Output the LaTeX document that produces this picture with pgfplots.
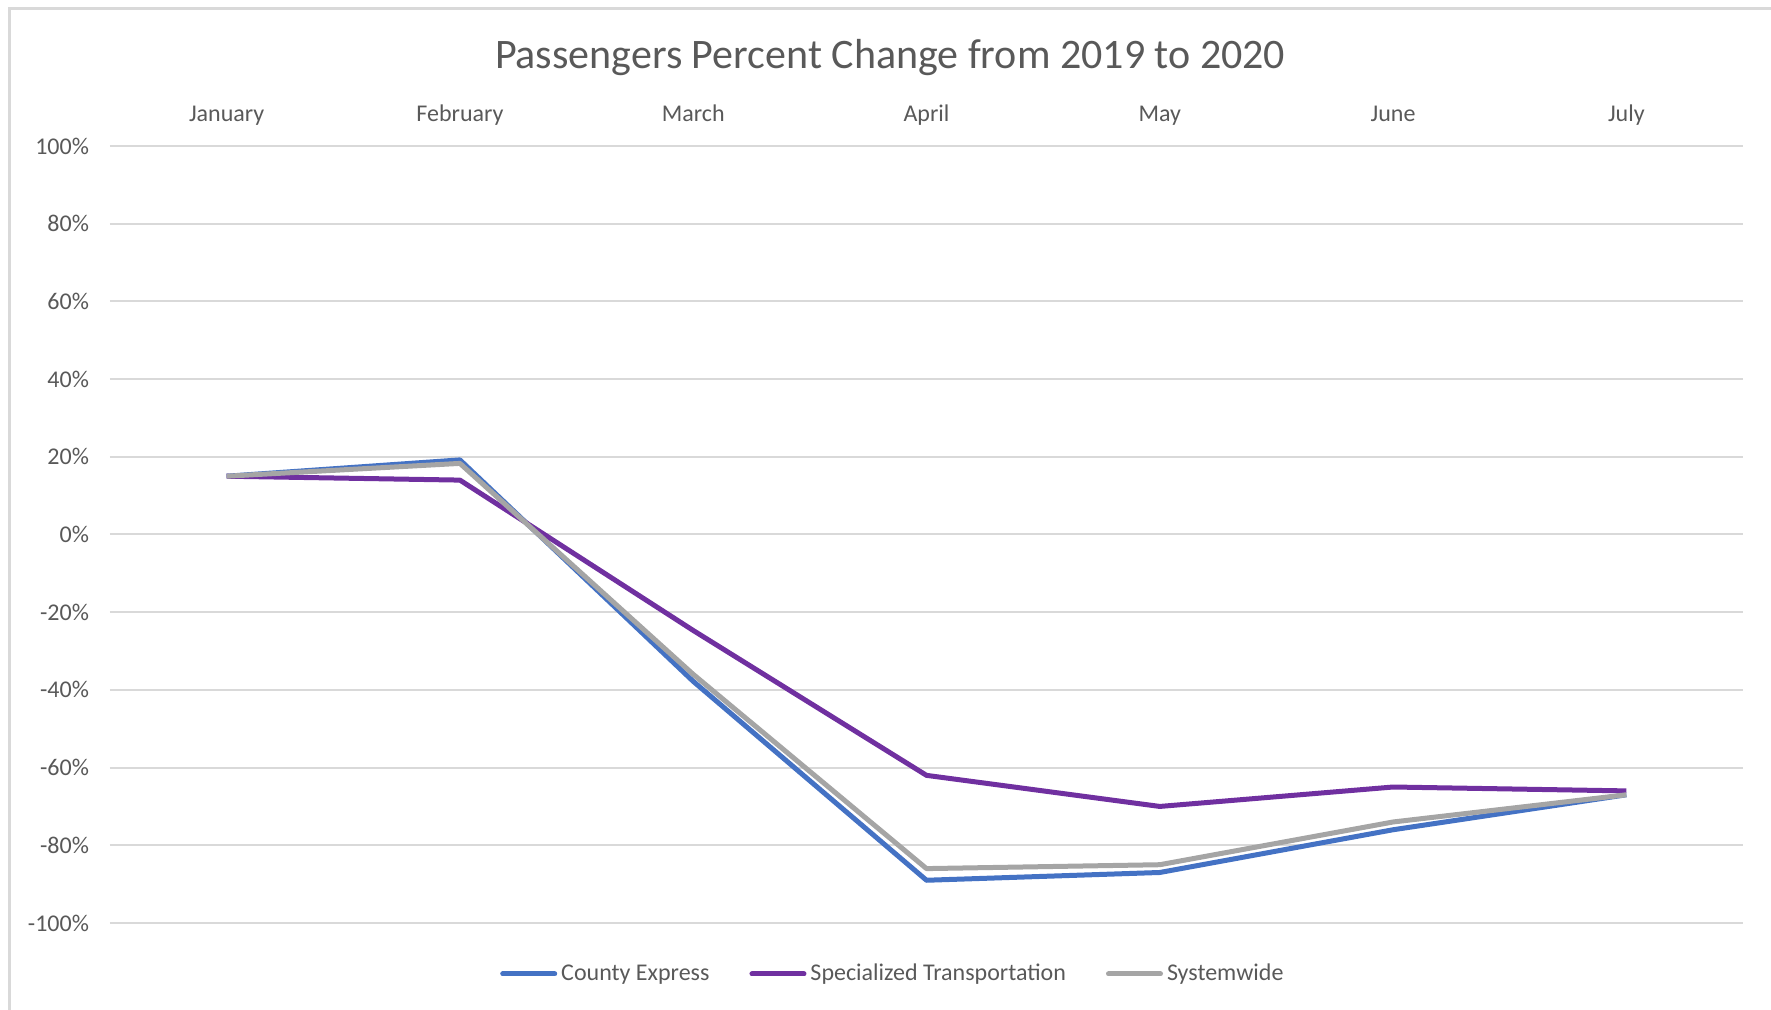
\documentclass[border=0pt]{standalone}
\usepackage{pgfplots}
\pgfplotsset{compat=1.18}
\usepackage{fontspec}
\setmainfont{Carlito}
\definecolor{cblue}{HTML}{4472C4}
\definecolor{cpurple}{HTML}{7030A0}
\definecolor{cgray}{HTML}{A5A5A5}
\definecolor{ctext}{HTML}{595959}
\definecolor{cgrid}{HTML}{D9D9D9}
\begin{document}
\begin{tikzpicture}
\path[use as bounding box] (0pt,0pt) rectangle (885.5pt,505pt);
\draw[cgrid, line width=1.5pt] (4.5pt,0pt) -- (4.5pt,500.5pt) -- (885.5pt,500.5pt);
\begin{axis}[
  at={(55pt,43.5pt)}, anchor=south west,
  scale only axis, width=816.5pt, height=388.5pt,
  xmin=-0.5, xmax=6.5, ymin=-100, ymax=100,
  axis line style={draw=none},
  xtick={0,1,2,3,4,5,6},
  xticklabels={January,February,March,April,May,June,July},
  xticklabel pos=upper,
  major tick length=0pt,
  ytick={-100,-80,-60,-40,-20,0,20,40,60,80,100},
  yticklabels={-100\%,-80\%,-60\%,-40\%,-20\%,0\%,20\%,40\%,60\%,80\%,100\%},
  ymajorgrids, grid style={cgrid, line width=1pt},
  tick label style={font=\fontsize{12}{14}\selectfont, text=ctext},
  xticklabel style={anchor=south, inner sep=0pt, text depth=0pt, yshift=12pt},
  yticklabel style={xshift=-7pt},
  title={Passengers Percent Change from 2019 to 2020},
  title style={font=\fontsize{21}{24}\selectfont, text=ctext, at={(rel axis cs:0.4777,1.099)}, anchor=center},
  legend style={at={(rel axis cs:0.48,-0.0656)}, anchor=center, draw=none, fill=none,
     font=\fontsize{12}{14}\selectfont, text=ctext, legend columns=3,
     /tikz/every even column/.append style={column sep=18pt}},
  legend image code/.code={\draw[#1, line cap=round] (0pt,0pt) -- (26pt,0pt);},
  every axis plot/.append style={line width=2.5pt, line join=round},
]
\addplot[cblue, mark=none] coordinates {(0,15) (1,19.2) (2,-37.8) (3,-89) (4,-87) (5,-76) (6,-67)};
\addlegendentry{County Express}
\addplot[cpurple, mark=none] coordinates {(0,15) (1,14) (2,-24.7) (3,-62) (4,-70) (5,-65) (6,-66)};
\addlegendentry{Specialized Transportation}
\addplot[cgray, mark=none] coordinates {(0,15) (1,18.3) (2,-36) (3,-86) (4,-85) (5,-74) (6,-67)};
\addlegendentry{Systemwide}
\end{axis}
\end{tikzpicture}
\end{document}
